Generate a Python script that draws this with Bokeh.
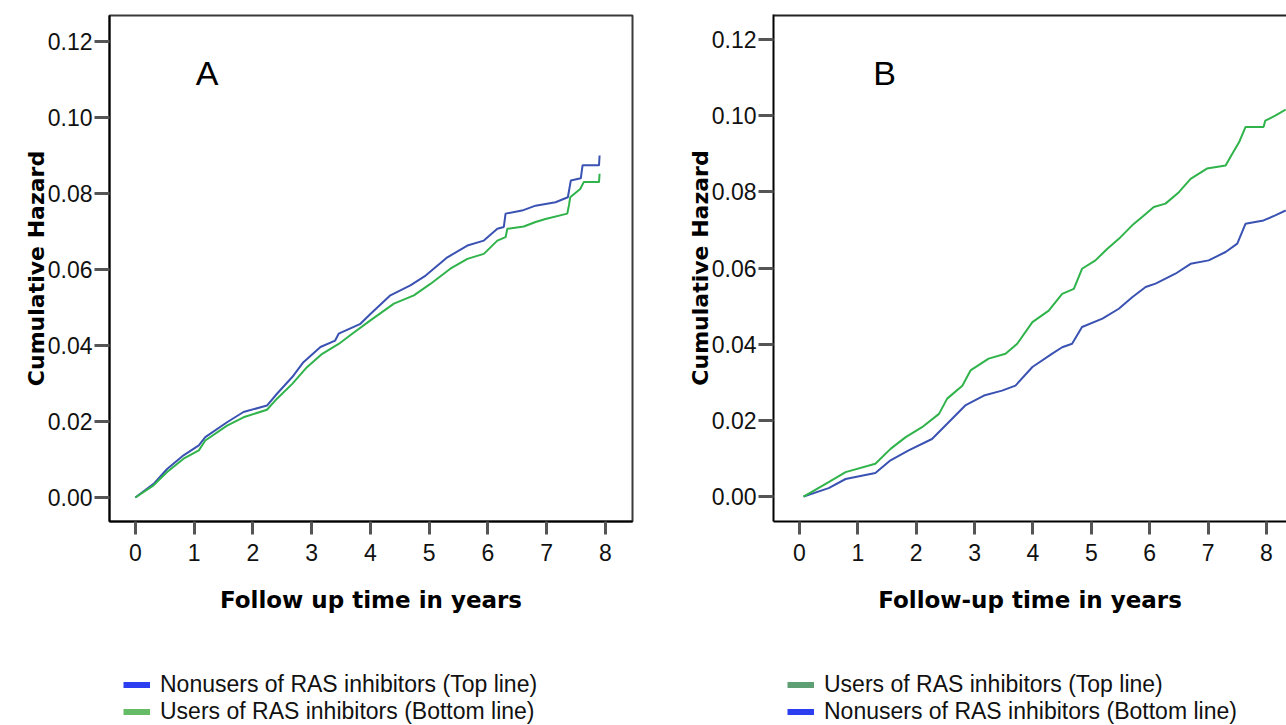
from bokeh.plotting import figure
from bokeh.layouts import row, column
from bokeh.models import (Range1d, FixedTicker, NumeralTickFormatter, Label,
                          Legend, LegendItem, Span)
from bokeh.embed import file_html
from bokeh.resources import INLINE

# ---------------- data ----------------
Y_TICKS = [0.00, 0.02, 0.04, 0.06, 0.08, 0.10, 0.12]
X_TICKS = [0, 1, 2, 3, 4, 5, 6, 7, 8]

# Panel A
a_nonusers_t = [0, 0.31, 0.54, 0.82, 1.08, 1.19, 1.56, 1.84, 2.24, 2.41, 2.67, 2.86, 3.15, 3.40,
                3.46, 3.83, 4.0, 4.34, 4.68, 4.94, 5.31, 5.65, 5.93, 6.16, 6.27, 6.30, 6.58, 6.81,
                7.15, 7.36, 7.41, 7.58, 7.61, 7.89, 7.90]
a_nonusers_h = [0, 0.0036, 0.0075, 0.0111, 0.0137, 0.0159, 0.0198, 0.0225, 0.0242, 0.0273, 0.0317,
                0.0356, 0.0396, 0.0413, 0.0431, 0.0457, 0.0483, 0.0532, 0.0558, 0.0584, 0.0632,
                0.0663, 0.0676, 0.0707, 0.0712, 0.0747, 0.0755, 0.0768, 0.0777, 0.0790, 0.0834,
                0.0840, 0.0874, 0.0874, 0.0900]
a_users_t = [0, 0.31, 0.54, 0.82, 1.08, 1.19, 1.56, 1.84, 2.24, 2.41, 2.67, 2.92, 3.18, 3.46, 3.69,
             4.0, 4.40, 4.74, 5.02, 5.36, 5.65, 5.93, 6.16, 6.30, 6.33, 6.61, 6.81, 6.98, 7.35,
             7.38, 7.40, 7.57, 7.63, 7.89, 7.90]
a_users_h = [0, 0.0032, 0.0067, 0.0102, 0.0124, 0.0150, 0.0189, 0.0211, 0.0231, 0.0260, 0.0299,
             0.0343, 0.0378, 0.0404, 0.0431, 0.0466, 0.0510, 0.0532, 0.0562, 0.0602, 0.0628,
             0.0641, 0.0676, 0.0685, 0.0707, 0.0713, 0.0725, 0.0733, 0.0747, 0.0770, 0.0790,
             0.0812, 0.0830, 0.0830, 0.0852]

# Panel B
b_users_t = [0.07, 0.50, 0.79, 1.30, 1.56, 1.82, 2.10, 2.39, 2.53, 2.79, 2.93, 3.24, 3.53, 3.73,
             3.99, 4.27, 4.50, 4.70, 4.84, 5.07, 5.27, 5.50, 5.70, 5.90, 6.07, 6.27, 6.50, 6.70,
             6.98, 7.30, 7.38, 7.53, 7.64, 7.95, 7.98, 8.15, 8.33]
b_users_h = [0, 0.0038, 0.0064, 0.0086, 0.0125, 0.0156, 0.0182, 0.0217, 0.0257, 0.0291, 0.0331,
             0.0362, 0.0375, 0.0401, 0.0458, 0.0488, 0.0532, 0.0545, 0.0598, 0.0620, 0.0650,
             0.0681, 0.0712, 0.0738, 0.0760, 0.0769, 0.0799, 0.0834, 0.0861, 0.0869, 0.0891,
             0.0930, 0.0970, 0.0970, 0.0987, 0.1000, 0.1016]
b_nonusers_t = [0.07, 0.50, 0.79, 1.30, 1.56, 1.87, 2.27, 2.53, 2.84, 3.16, 3.47, 3.70, 3.99, 4.33,
                4.50, 4.67, 4.84, 5.19, 5.47, 5.70, 5.93, 6.10, 6.44, 6.70, 7.01, 7.30, 7.50, 7.64,
                7.95, 8.15, 8.33]
b_nonusers_h = [0, 0.0022, 0.0046, 0.0062, 0.0095, 0.0121, 0.0151, 0.0191, 0.0239, 0.0265, 0.0278,
                0.0291, 0.0340, 0.0375, 0.0392, 0.0401, 0.0445, 0.0467, 0.0493, 0.0523, 0.0550,
                0.0559, 0.0585, 0.0611, 0.0620, 0.0642, 0.0664, 0.0716, 0.0725, 0.0738, 0.0751]

LEG_A = ["Nonusers of RAS inhibitors (Top line)", "Users of RAS inhibitors (Bottom line)"]
LEG_B = ["Users of RAS inhibitors (Top line)", "Nonusers of RAS inhibitors (Bottom line)"]

# ---------------- styling ----------------
BLUE_LINE = "#3a52b2"
GREEN_LINE = "#30b34a"
TICK_FONT = "Liberation Sans"
TITLE_FONT = "DejaVu Sans"


def style_axes(p, xtitle):
    xa, ya = p.xaxis[0], p.yaxis[0]
    xa.ticker = FixedTicker(ticks=X_TICKS)
    ya.ticker = FixedTicker(ticks=Y_TICKS)
    ya.formatter = NumeralTickFormatter(format="0.00")
    for ax in (xa, ya):
        ax.axis_line_color = "black"
        ax.axis_line_width = 2
        ax.major_tick_line_color = "#555555"
        ax.major_tick_line_width = 3
        ax.major_tick_in = 0
        ax.minor_tick_line_color = None
        ax.major_label_text_font = TICK_FONT
        ax.major_label_text_font_size = "23px"
        ax.major_label_text_color = "#111111"
        ax.axis_label_text_font = TITLE_FONT
        ax.axis_label_text_font_style = "bold"
        ax.axis_label_text_color = "black"
    xa.major_tick_out = 13
    xa.major_label_standoff = 9
    xa.axis_label = xtitle
    xa.axis_label_text_font_size = "23px"
    xa.axis_label_standoff = 23
    ya.major_tick_out = 15
    ya.major_label_standoff = 2
    ya.axis_label = "Cumulative Hazard"
    ya.axis_label_text_font_size = "22px"
    ya.axis_label_standoff = -4


def legend_fig(width, labels, colors, dx):
    f = figure(width=width, height=104, x_axis_location=None, y_axis_location=None,
               min_border=0, x_range=Range1d(0, 1), y_range=Range1d(0, 1),
               output_backend="svg", toolbar_location=None)
    f.outline_line_color = None
    f.grid.visible = False
    items = []
    for lab, col in zip(labels, colors):
        # legend-only renderer (its single point is NaN, so nothing is drawn in the plot area)
        r = f.line(x=[float("nan")], y=[float("nan")], line_color=col, line_width=6)
        items.append(LegendItem(label=lab, renderers=[r]))
    leg = Legend(items=items, location=(dx, 0), padding=0, margin=0, spacing=0,
                 glyph_width=27, glyph_height=27, label_height=27, label_standoff=10,
                 label_text_font=TICK_FONT, label_text_font_size="23px",
                 label_text_color="#111111", label_text_baseline="middle",
                 border_line_color=None, background_fill_alpha=0)
    f.add_layout(leg)
    return f


# ---------------- Panel A ----------------
pA = figure(frame_width=523, frame_height=506, min_border_left=109, min_border_right=36,
            min_border_top=15, min_border_bottom=100,
            x_range=Range1d(-0.44, 8.46), y_range=Range1d(-0.00632, 0.12684),
            output_backend="svg", toolbar_location=None)
pA.grid.visible = False
pA.outline_line_color = "#3a3a3a"
pA.outline_line_width = 2
style_axes(pA, "Follow up time in years")
pA.line(a_nonusers_t, a_nonusers_h, line_color=BLUE_LINE, line_width=2)
pA.line(a_users_t, a_users_h, line_color=GREEN_LINE, line_width=2)
pA.add_layout(Label(x=1.22, y=0.1118, text="A", text_font=TICK_FONT, text_font_size="34px",
                    text_align="center", text_baseline="middle", text_color="black"))
# legend figure's frame is aligned with the panel frame (left edge 109)
legA = legend_fig(668, LEG_A, ["#2b3ef0", "#66bb66"], 14)

# ---------------- Panel B ----------------
pB = figure(frame_width=513, frame_height=507, min_border_left=105, min_border_right=0,
            min_border_top=14, min_border_bottom=100,
            x_range=Range1d(-0.445, 8.343), y_range=Range1d(-0.00656, 0.12656),
            output_backend="svg", toolbar_location=None)
pB.grid.visible = False
pB.outline_line_color = None
style_axes(pB, "Follow-up time in years")
pB.add_layout(Span(location=0.12656, dimension="width", line_color="#222222", line_width=4))
pB.line(b_nonusers_t, b_nonusers_h, line_color=BLUE_LINE, line_width=2)
pB.line(b_users_t, b_users_h, line_color=GREEN_LINE, line_width=2)
pB.add_layout(Label(x=1.456, y=0.1113, text="B", text_font=TICK_FONT, text_font_size="34px",
                    text_align="center", text_baseline="middle", text_color="black"))
legB = legend_fig(618, LEG_B, ["#5f9f74", "#2b3ef0"], 14)

layout = row(column(pA, legA), column(pB, legB))
open("out.html", "w").write(file_html(layout, INLINE))
